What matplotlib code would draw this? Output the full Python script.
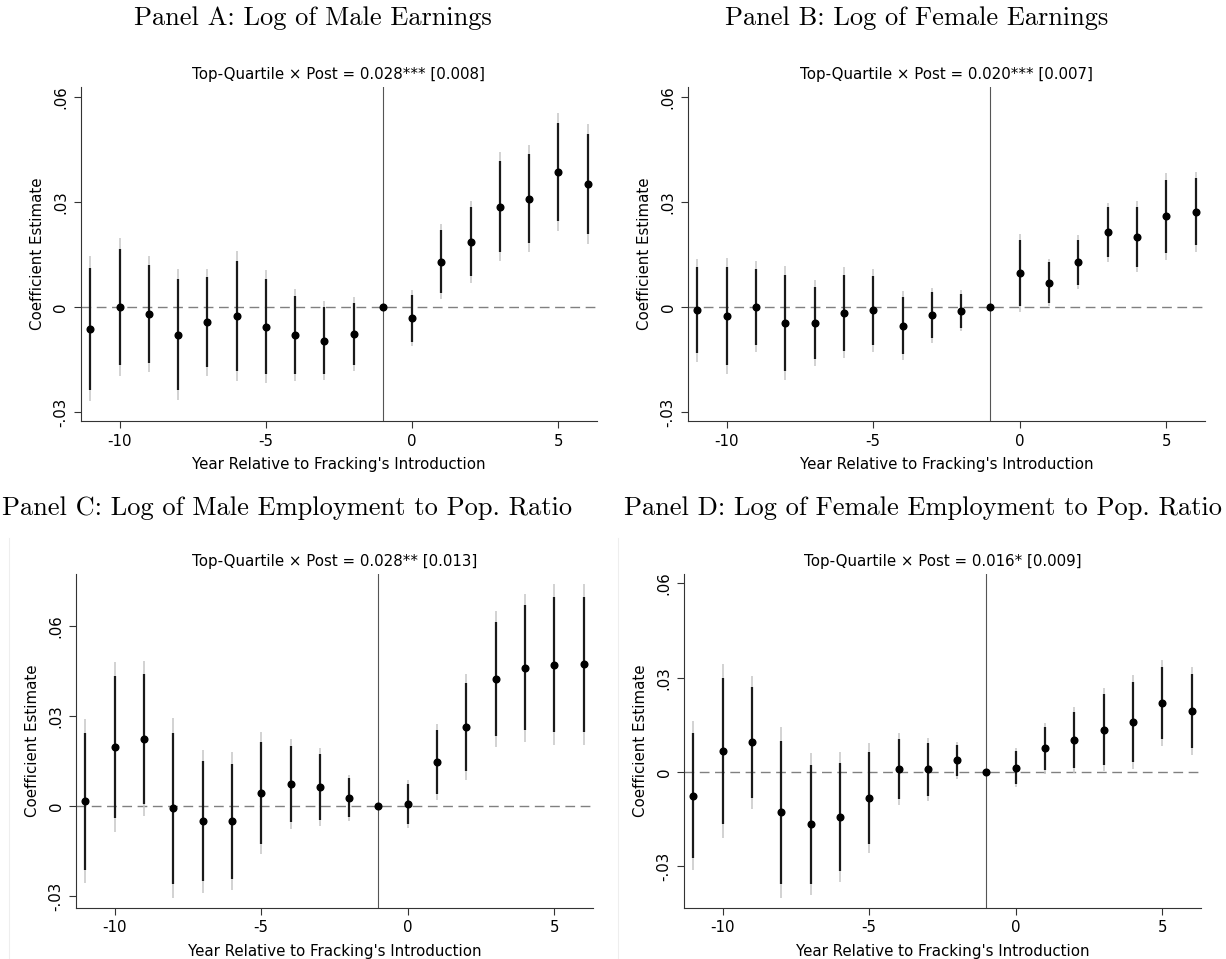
import matplotlib.pyplot as plt
from matplotlib.lines import Line2D
import numpy as np

# Stata-style tick labels use a plain hyphen for negatives
plt.rcParams['axes.unicode_minus'] = False

# event time relative to fracking's introduction (year -1 is the omitted year)
years = np.arange(-11, 7)

# Panel A: log of male earnings
male_earn_coef = [-0.0062, 0.0000, -0.0020, -0.0079, -0.0044, -0.0026, -0.0056, -0.0080, -0.0096,
                  -0.0077, 0.0, -0.0032, 0.0130, 0.0186, 0.0287, 0.0310, 0.0386, 0.0352]
male_earn_se = [0.0106, 0.0101, 0.0085, 0.0096, 0.0078, 0.0095, 0.0083, 0.0067, 0.0058,
                0.0054, 0.0, 0.0041, 0.0055, 0.0060, 0.0079, 0.0078, 0.0086, 0.0087]

# Panel B: log of female earnings
female_earn_coef = [-0.0009, -0.0026, 0.0001, -0.0046, -0.0046, -0.0016, -0.0010, -0.0053, -0.0024,
                    -0.0011, 0.0, 0.0098, 0.0070, 0.0128, 0.0214, 0.0201, 0.0259, 0.0272]
female_earn_se = [0.0075, 0.0085, 0.0066, 0.0083, 0.0063, 0.0066, 0.0060, 0.0050, 0.0040,
                  0.0030, 0.0, 0.0057, 0.0035, 0.0039, 0.0043, 0.0052, 0.0064, 0.0058]

# Panel C: log of male employment to population ratio
male_emp_coef = [0.0016, 0.0196, 0.0224, -0.0008, -0.0051, -0.0051, 0.0043, 0.0073, 0.0063,
                 0.0028, 0.0, 0.0006, 0.0147, 0.0263, 0.0423, 0.0461, 0.0471, 0.0472]
male_emp_se = [0.0139, 0.0144, 0.0132, 0.0153, 0.0122, 0.0117, 0.0103, 0.0077, 0.0067,
               0.0039, 0.0, 0.0041, 0.0065, 0.0090, 0.0115, 0.0126, 0.0137, 0.0137]

# Panel D: log of female employment to population ratio
female_emp_coef = [-0.0076, 0.0067, 0.0094, -0.0129, -0.0166, -0.0143, -0.0083, 0.0010, 0.0008,
                   0.0037, 0.0, 0.0014, 0.0075, 0.0102, 0.0135, 0.0159, 0.0219, 0.0194]
female_emp_se = [0.0121, 0.0141, 0.0108, 0.0139, 0.0115, 0.0105, 0.0089, 0.0058, 0.0051,
                 0.0030, 0.0, 0.0032, 0.0042, 0.0054, 0.0068, 0.0077, 0.0070, 0.0072]

panel_titles = ["Panel A: Log of Male Earnings",
                "Panel B: Log of Female Earnings",
                "Panel C: Log of Male Employment to Pop. Ratio",
                "Panel D: Log of Female Employment to Pop. Ratio"]
dd_labels = ["Top-Quartile \u00d7 Post = 0.028*** [0.008]",
             "Top-Quartile \u00d7 Post = 0.020*** [0.007]",
             "Top-Quartile \u00d7 Post = 0.028** [0.013]",
             "Top-Quartile \u00d7 Post = 0.016* [0.009]"]
coefs = [male_earn_coef, female_earn_coef, male_emp_coef, female_emp_coef]
ses = [male_earn_se, female_earn_se, male_emp_se, female_emp_se]

ytick_vals = [-0.03, 0, 0.03, 0.06]
ytick_text = ["-.03", "0", ".03", ".06"]
xtick_vals = [-10, -5, 0, 5]

W, H = 1226, 959
fig = plt.figure(figsize=(W / 100, H / 100), dpi=100)

# plot boxes in pixels: left, right, top, bottom
boxes = [(81, 597, 87, 421), (688, 1205, 87, 421),
         (76, 593, 574, 908), (684, 1201, 574, 908)]
ylims = [(-0.0326, 0.0629), (-0.0326, 0.0629), (-0.0340, 0.0773), (-0.0433, 0.0630)]
title_pos = [(313, 18), (917, 18), (287, 508), (923, 508)]

for i in range(4):
    l, r, t, b = boxes[i]
    ax = fig.add_axes([l / W, 1 - b / H, (r - l) / W, (b - t) / H])
    coef = np.array(coefs[i])
    se = np.array(ses[i])

    # 95% interval in light gray, 90% interval in black on top
    ax.vlines(years, coef - 1.96 * se, coef + 1.96 * se, color="#c6c6c6", lw=1.1, zorder=2)
    ax.vlines(years, coef - 1.645 * se, coef + 1.645 * se, color="#1a1a1a", lw=1.6, zorder=3)
    ax.plot(years, coef, "o", color="black", ms=4.8, zorder=4)

    ax.axhline(0, color="#808080", lw=1.0, ls=(0, (7, 4)), zorder=1)
    ax.axvline(-1, color="#555555", lw=0.8, zorder=1)

    ax.set_xlim(-11.32, 6.32)
    ax.set_ylim(*ylims[i])
    ax.set_xticks(xtick_vals)
    ax.set_yticks(ytick_vals)
    ax.set_yticklabels(ytick_text, rotation=90, va="center")
    ax.tick_params(direction="out", length=5, width=0.8, color="#333333", labelsize=10.8, pad=4)
    for side in ["top", "right"]:
        ax.spines[side].set_visible(False)
    for side in ["left", "bottom"]:
        ax.spines[side].set_color("#333333")
        ax.spines[side].set_linewidth(0.8)

    ax.set_xlabel("Year Relative to Fracking's Introduction", fontsize=10.8, labelpad=6)
    ax.set_ylabel("Coefficient Estimate", fontsize=10.8, labelpad=6)
    ax.set_title(dd_labels[i], fontsize=10.8, pad=6)

    tx, ty = title_pos[i]
    fig.text(tx / W, 1 - ty / H, panel_titles[i], fontfamily="cmr10", fontsize=19,
             ha="center", va="center")

# faint frames along the left edge of the lower two graphs
fig.add_artist(Line2D([9 / W, 9 / W], [0, 1 - 538 / H], color="#eeeeee", lw=0.8))
fig.add_artist(Line2D([618 / W, 618 / W], [0, 1 - 538 / H], color="#eeeeee", lw=0.8))

fig.savefig("out.png", dpi=100)
